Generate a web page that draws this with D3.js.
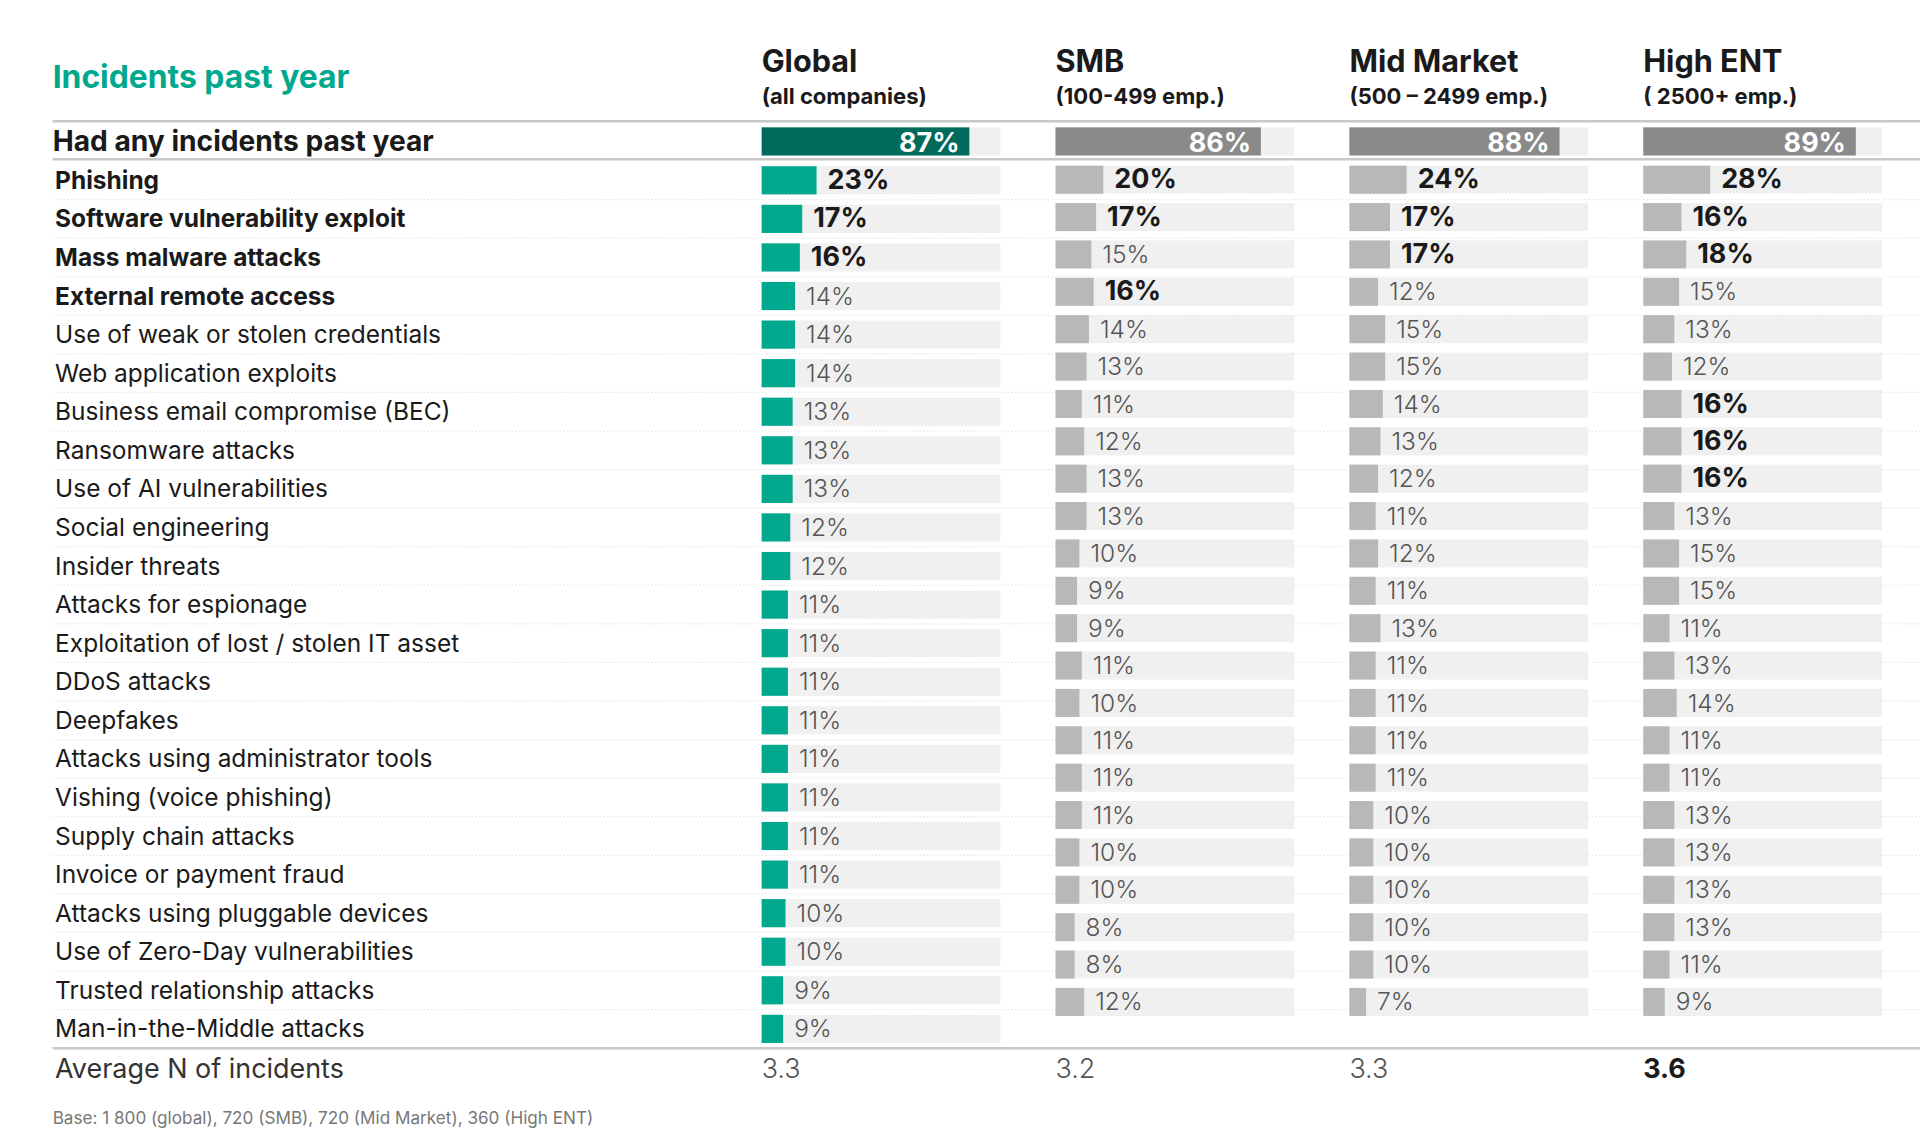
<!DOCTYPE html>
<html><head><meta charset="utf-8">
<script src="https://cdn.jsdelivr.net/npm/d3@7"></script>
<style>body{margin:0;background:#fff}svg{display:block}text{font-family:Inter,"Open Sans",sans-serif}</style>
</head><body><svg id="c" width="1920" height="1139"></svg>
<script>
const categories=["Phishing","Software vulnerability exploit","Mass malware attacks","External remote access","Use of weak or stolen credentials","Web application exploits","Business email compromise (BEC)","Ransomware attacks","Use of AI vulnerabilities","Social engineering","Insider threats","Attacks for espionage","Exploitation of lost / stolen IT asset","DDoS attacks","Deepfakes","Attacks using administrator tools","Vishing (voice phishing)","Supply chain attacks","Invoice or payment fraud","Attacks using pluggable devices","Use of Zero-Day vulnerabilities","Trusted relationship attacks","Man-in-the-Middle attacks"];
const boldCategories=[0,1,2,3];
const segments=["Global","SMB","Mid Market","High ENT"];
const segmentSub=["(all companies)","(100-499 emp.)","(500 – 2499 emp.)","( 2500+ emp.)"];
const anyIncidents=[87,86,88,89];
const globalVals=[23,17,16,14,14,14,13,13,13,12,12,11,11,11,11,11,11,11,11,10,10,9,9];
const smbVals=[20,17,15,16,14,13,11,12,13,13,10,9,9,11,10,11,11,11,10,10,8,8,12];
const midVals=[24,17,17,12,15,15,14,13,12,11,12,11,13,11,11,11,11,10,10,10,10,10,7];
const highVals=[28,16,18,15,13,12,16,16,16,13,15,15,11,13,14,11,11,13,13,13,13,11,9];
const boldFlags=[[0,1,2],[0,1,3],[0,1,2],[0,1,2,6,7,8]];
const averages=["3.3","3.2","3.3","3.6"];
const avgBold=[3];
const series=[globalVals,smbVals,midVals,highVals];

const k=1920/1568;
const svg=d3.select("#c").append("g").attr("transform",`scale(${k})`);
const colX=[622,862,1102,1342];
const x=d3.scaleLinear().domain([0,100]).range([0,195]);
const yG=d3.scaleBand().domain(d3.range(23)).range([131.5,856]).paddingInner(0.27).paddingOuter(0.135);
const yS=d3.scaleBand().domain(d3.range(23)).range([131.5,833.5]).paddingInner(0.25).paddingOuter(0.125);

svg.append("text").attr("x",43).attr("y",72).attr("fill","#00a88e").attr("font-weight",700).attr("font-size",26).text("Incidents past year");
segments.forEach((s,i)=>{
  svg.append("text").attr("x",colX[i]).attr("y",59).attr("font-weight",700).attr("font-size",25).attr("fill","#1a1a1a").text(s);
  svg.append("text").attr("x",colX[i]).attr("y",85).attr("font-weight",700).attr("font-size",18).attr("fill","#1a1a1a").text(segmentSub[i]);
});
svg.append("line").attr("x1",43).attr("x2",1568).attr("y1",99).attr("y2",99).attr("stroke","#c8c8c8").attr("stroke-width",2);
svg.append("line").attr("x1",43).attr("x2",1568).attr("y1",130).attr("y2",130).attr("stroke","#c8c8c8").attr("stroke-width",2);
svg.append("line").attr("x1",43).attr("x2",1568).attr("y1",856).attr("y2",856).attr("stroke","#c8c8c8").attr("stroke-width",2);
svg.append("text").attr("x",43).attr("y",123).attr("font-weight",700).attr("font-size",23).attr("fill","#1a1a1a").text("Had any incidents past year");

// row separators
d3.range(22).forEach(i=>{
  const yy=yG(i)+yG.bandwidth()+(yG.step()-yG.bandwidth())/2;
  svg.append("line").attr("x1",43).attr("x2",1568).attr("y1",yy).attr("y2",yy).attr("stroke","#e2e2e2").attr("stroke-dasharray","1,2");
});

anyIncidents.forEach((v,i)=>{
  svg.append("rect").attr("x",colX[i]).attr("y",104).attr("width",x(100)).attr("height",23).attr("fill","#f0f0f0");
  svg.append("rect").attr("x",colX[i]).attr("y",104).attr("width",x(v)).attr("height",23).attr("fill",i==0?"#006b5a":"#8a8a8a");
  svg.append("text").attr("x",colX[i]+x(v)-8).attr("y",124).attr("text-anchor","end").attr("fill","#fff").attr("font-weight",700).attr("font-size",22).text(v+"%");
});

const labelG=svg.append("g");
categories.forEach((c,i)=>{
  labelG.append("text").attr("x",45).attr("y",yG(i)+yG.bandwidth()/2+7).attr("font-size",20).attr("font-weight",boldCategories.includes(i)?700:400).attr("fill","#1a1a1a").text(c);
});

series.forEach((vals,si)=>{
  const y=si==0?yG:yS;
  const g=svg.append("g").attr("transform",`translate(${colX[si]},0)`);
  g.selectAll("rect.t").data(vals).join("rect").attr("x",0).attr("y",(d,i)=>y(i)).attr("width",x(100)).attr("height",y.bandwidth()).attr("fill","#f0f0f0");
  g.selectAll("rect.b").data(vals).join("rect").attr("x",0).attr("y",(d,i)=>y(i)).attr("width",d=>x(d)).attr("height",y.bandwidth()).attr("fill",si==0?"#00a88e":"#b8b8b8");
  g.selectAll("text").data(vals).join("text").attr("x",d=>x(d)+9).attr("y",(d,i)=>y(i)+y.bandwidth()/2+7)
    .attr("font-size",(d,i)=>boldFlags[si].includes(i)?22:20).attr("font-weight",(d,i)=>boldFlags[si].includes(i)?700:300)
    .attr("fill",(d,i)=>boldFlags[si].includes(i)?"#1a1a1a":"#555").text(d=>d+"%");
});

svg.append("text").attr("x",45).attr("y",880).attr("font-size",22).attr("fill","#333").text("Average N of incidents");
averages.forEach((a,i)=>{
  svg.append("text").attr("x",colX[i]).attr("y",880).attr("font-size",22).attr("font-weight",avgBold.includes(i)?700:300).attr("fill",avgBold.includes(i)?"#1a1a1a":"#555").text(a);
});
svg.append("text").attr("x",43).attr("y",918).attr("font-size",14).attr("fill","#777").text("Base: 1 800 (global), 720 (SMB), 720 (Mid Market), 360 (High ENT)");
</script></body></html>
